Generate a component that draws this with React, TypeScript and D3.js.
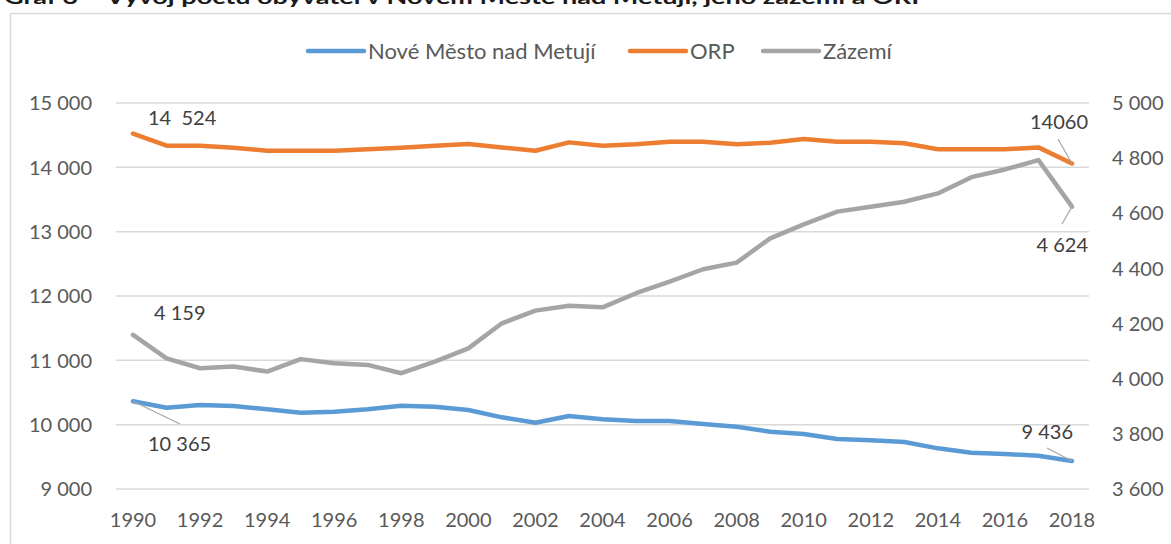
import React from 'react'
import * as d3 from 'd3'

const years = d3.range(1990, 2019)

const noveMesto = [10365, 10264, 10306, 10290, 10239, 10186, 10200, 10239, 10295, 10280,
  10228, 10114, 10031, 10135, 10083, 10057, 10057, 10010, 9968, 9891,
  9855, 9777, 9757, 9731, 9632, 9564, 9544, 9518, 9436]

const orp = [14524, 14337, 14337, 14305, 14258, 14258, 14258, 14280, 14305, 14337,
  14363, 14310, 14258, 14388, 14337, 14360, 14399, 14399, 14360, 14383,
  14440, 14399, 14399, 14373, 14280, 14280, 14280, 14310, 14060]

const zazemi = [4159, 4074, 4038, 4044, 4026, 4071, 4056, 4050, 4020, 4062,
  4110, 4201, 4247, 4265, 4259, 4310, 4352, 4397, 4421, 4509,
  4560, 4606, 4624, 4642, 4672, 4731, 4759, 4793, 4624]

const leftTicks = [9000, 10000, 11000, 12000, 13000, 14000, 15000]
const rightTicks = [3600, 3800, 4000, 4200, 4400, 4600, 4800, 5000]
const xTicks = years.filter(y => y % 2 === 0)

const title = 'Graf 3 – Vývoj počtu obyvatel v Novém Městě nad Metují, jeho zázemí a ORP'

const fmt = (v: number) => d3.format(',')(v).replace(/,/g, ' ')

const FONT = 'Lato, "Liberation Sans", sans-serif'
const TEXT = '#595959'
const LABEL = '#404040'

export default function App() {
  const W = 1171, H = 544
  const x = d3.scaleLinear().domain([1990, 2018]).range([133, 1072])
  const yL = d3.scaleLinear().domain([9000, 15000]).range([489, 103])
  const yR = d3.scaleLinear().domain([3600, 5000]).range([489, 103])

  const lineL = d3.line<number>().x((_, i) => x(years[i])).y(d => yL(d))
  const lineR = d3.line<number>().x((_, i) => x(years[i])).y(d => yR(d))

  const series = [
    { name: 'Nové Město nad Metují', color: '#5B9BD5', d: lineL(noveMesto) },
    { name: 'ORP', color: '#ED7D31', d: lineL(orp) },
    { name: 'Zázemí', color: '#A5A5A5', d: lineR(zazemi) },
  ]

  const legend = [
    { name: 'Nové Město nad Metují', color: '#5B9BD5', x0: 308, x1: 364 },
    { name: 'ORP', color: '#ED7D31', x0: 630, x1: 686 },
    { name: 'Zázemí', color: '#A5A5A5', x0: 763, x1: 819 },
  ]

  const last = years.length - 1
  // data labels, with an optional leader line from the point
  const labels = [
    { t: '14  524', px: x(1990), py: yL(orp[0]), lx: 148, ly: 118, a: 'start', leader: null },
    { t: fmt(zazemi[0]), px: x(1990), py: yR(zazemi[0]), lx: 154, ly: 313, a: 'start', leader: null },
    { t: fmt(noveMesto[0]), px: x(1990), py: yL(noveMesto[0]), lx: 148, ly: 444, a: 'start', leader: [180, 424] },
    { t: String(orp[last]), px: x(2018), py: yL(orp[last]), lx: 1088, ly: 122, a: 'end', leader: [1058, 139] },
    { t: fmt(zazemi[last]), px: x(2018), py: yR(zazemi[last]), lx: 1088, ly: 245, a: 'end', leader: [1062, 224] },
    { t: fmt(noveMesto[last]), px: x(2018), py: yL(noveMesto[last]), lx: 1073, ly: 432, a: 'end', leader: [1047, 448] },
  ]

  return (
    <svg width={W} height={H} style={{ position: 'absolute', left: 0, top: 0, background: '#fff' }}
      fontFamily={FONT}>
      <text x={4} y={4} fontSize={19} fontWeight="bold" fill="#1a1a1a"
        textLength={924} lengthAdjust="spacingAndGlyphs">{title}</text>
      <rect x={10.5} y={13.5} width={1200} height={600} fill="none" stroke="#D9D9D9" strokeWidth={1.5} />

      {/* gridlines */}
      {leftTicks.map(t => (
        <line key={t} x1={116} x2={1089} y1={yL(t)} y2={yL(t)} stroke="#D9D9D9" strokeWidth={1.5} />
      ))}

      {/* left axis */}
      {leftTicks.map(t => (
        <text key={t} x={92} y={yL(t)} dy="0.36em" textAnchor="end" fontSize={20} fill={TEXT}>{fmt(t)}</text>
      ))}
      {/* right axis */}
      {rightTicks.map(t => (
        <text key={t} x={1112} y={yR(t)} dy="0.36em" textAnchor="start" fontSize={20} fill={TEXT}>{fmt(t)}</text>
      ))}
      {/* x axis */}
      {xTicks.map(t => (
        <text key={t} x={x(t)} y={527} textAnchor="middle" fontSize={20} fill={TEXT}>{t}</text>
      ))}

      {series.map(s => (
        <path key={s.name} d={s.d || ''} fill="none" stroke={s.color} strokeWidth={4.5}
          strokeLinejoin="round" strokeLinecap="round" />
      ))}

      {labels.map((l, i) => (
        <g key={i}>
          {l.leader && (
            <line x1={l.px} y1={l.py} x2={l.leader[0]} y2={l.leader[1]} stroke="#A6A6A6" strokeWidth={1.2} />
          )}
          <text x={l.lx} y={l.ly} dy="0.36em" textAnchor={l.a as any} fontSize={20} fill={LABEL}
            style={{ whiteSpace: 'pre' }}>{l.t}</text>
        </g>
      ))}

      {/* legend */}
      {legend.map(l => (
        <g key={l.name}>
          <line x1={l.x0} x2={l.x1} y1={51} y2={51} stroke={l.color} strokeWidth={4.5} strokeLinecap="round" />
          <text x={l.x1 + 4} y={51} dy="0.36em" fontSize={22} fill={TEXT}>{l.name}</text>
        </g>
      ))}
    </svg>
  )
}
